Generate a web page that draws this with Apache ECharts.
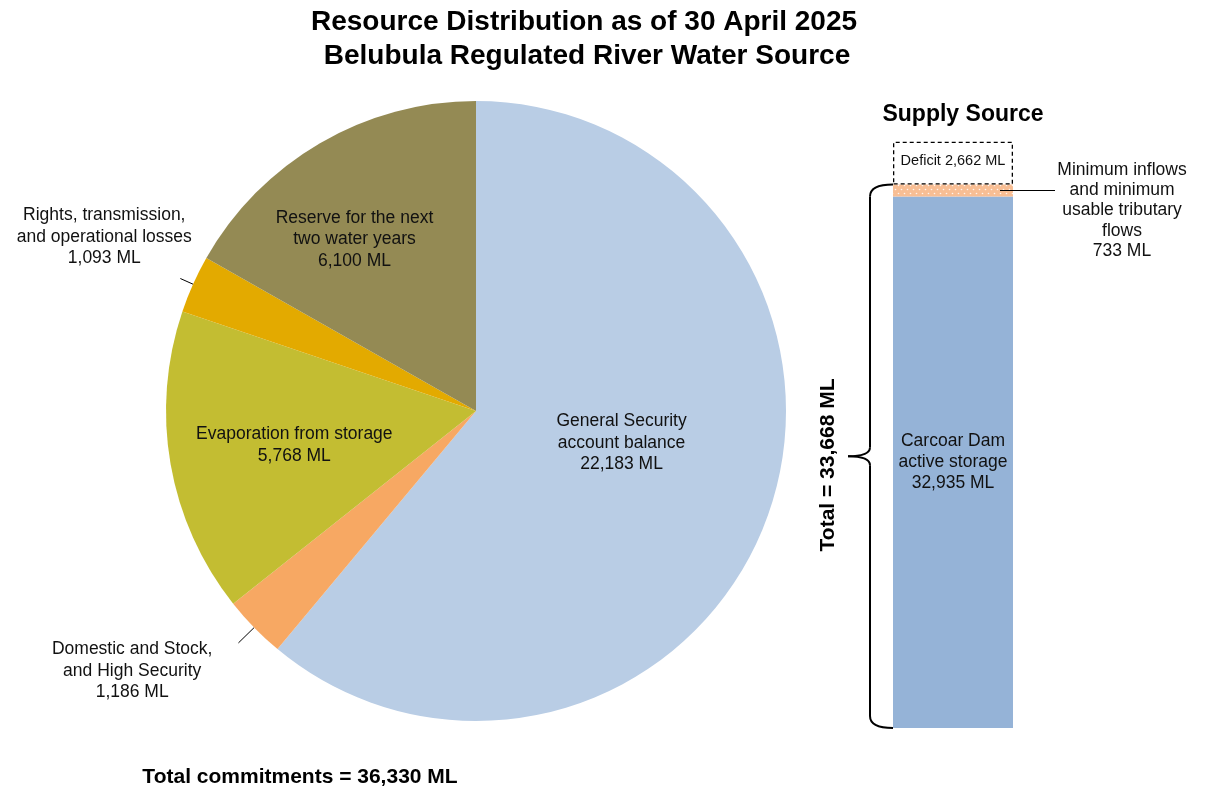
<!DOCTYPE html>
<html><head><meta charset="utf-8">
<script src="https://cdn.jsdelivr.net/npm/echarts@6/dist/echarts.min.js"></script>
<style>html,body{margin:0;padding:0;background:#fff}#c{width:1205px;height:792px}</style>
</head><body><div id="c"></div>
<script>
// ---------------- data ----------------
const titleLines = ['Resource Distribution as of 30 April 2025', 'Belubula Regulated River Water Source'];
const pieNames = ['General Security\naccount balance', 'Domestic and Stock,\nand High Security', 'Evaporation from storage', 'Rights, transmission,\nand operational losses', 'Reserve for the next\ntwo water years'];
const pieValues = [22183, 1186, 5768, 1093, 6100];
const supplyCategory = ['Supply Source'];
const supplyNames = ['Carcoar Dam\nactive storage', 'Minimum inflows\nand minimum\nusable tributary\nflows', 'Deficit'];
const supplyValues = [32935, 733, 2662];
const totalCommitmentsText = 'Total commitments = 36,330 ML';
const totalSupplyText = 'Total = 33,668 ML';

// ---------------- style ----------------
const FONT = '"Liberation Sans", Arial, sans-serif';
const pieColors = ['#B9CDE5', '#F7A863', '#C3BD32', '#E3AA00', '#948A54'];
const pieOutside = [false, true, false, true, false];
const pieLineLen = [0, 22, 0, 14, 0];
const pieLabelShift = [[-3, -22], [-21, 28], [-26, 7], [16.5, -41.5], [-42, -35]];
const BAR_LEFT = 893, BAR_W = 120, GRID_BOTTOM = 64, GRID_H = 645.6, Y_MAX = 40000;

const fmt = v => v.toLocaleString('en-US');

const chart = echarts.init(document.getElementById('c'), null, {renderer: 'canvas'});

const pieData = pieNames.map((n, i) => {
  const item = {name: n, value: pieValues[i], itemStyle: {color: pieColors[i]}};
  if (pieOutside[i]) {
    item.label = {position: 'outside'};
    item.labelLine = {show: true, length: pieLineLen[i], length2: 0, lineStyle: {color: '#000', width: 1}};
  }
  return item;
});

const supplyColors = ['#95B3D7', '#F8BE94', 'rgba(255,255,255,0)'];

const option = {
  backgroundColor: '#fff',
  animation: false,
  grid: {left: BAR_LEFT, width: BAR_W, bottom: GRID_BOTTOM, height: GRID_H, containLabel: false},
  xAxis: {type: 'category', data: supplyCategory, show: false},
  yAxis: {type: 'value', min: 0, max: Y_MAX, show: false},
  series: [
    {
      type: 'pie',
      center: [476, 411],
      radius: 310,
      startAngle: 90,
      clockwise: true,
      avoidLabelOverlap: false,
      silent: true,
      data: pieData,
      itemStyle: {borderWidth: 0},
      label: {
        show: true, position: 'inside', color: '#111', fontFamily: FONT, fontSize: 17.5, lineHeight: 21.5,
        formatter: p => p.name + '\n' + fmt(p.value) + ' ML'
      },
      labelLine: {show: false},
      labelLayout: function (p) {
        const s = pieLabelShift[p.dataIndex];
        const r = p.labelRect;
        return {
          x: r.x + r.width / 2 + s[0], y: r.y + r.height / 2 + s[1],
          align: 'center', verticalAlign: 'middle',
          labelLinePoints: p.labelLinePoints
        };
      }
    },
    {
      type: 'bar', stack: 'supply', barWidth: '100%', silent: true,
      data: [supplyValues[0]],
      itemStyle: {color: supplyColors[0]},
      label: {show: true, position: 'inside', color: '#111', fontFamily: FONT, fontSize: 17.5, lineHeight: 21,
        formatter: () => supplyNames[0] + '\n' + fmt(supplyValues[0]) + ' ML'}
    },
    {
      type: 'bar', stack: 'supply', barWidth: '100%', silent: true,
      data: [supplyValues[1]],
      itemStyle: {color: supplyColors[1],
        decal: {symbol: 'circle', symbolSize: 0.55, dashArrayX: [[3, 3], [0, 3, 3, 0]], dashArrayY: [3, 1], color: 'rgba(255,255,255,0.85)'}},
      label: {show: true, position: [229, 26], align: 'center', verticalAlign: 'middle', color: '#111', fontFamily: FONT, fontSize: 17.5, lineHeight: 20.3,
        formatter: () => supplyNames[1] + '\n' + fmt(supplyValues[1]) + ' ML'}
    },
    {
      type: 'bar', stack: 'supply', barWidth: '100%', silent: true,
      data: [supplyValues[2]],
      itemStyle: {color: supplyColors[2], borderColor: '#000', borderWidth: 1.3, borderType: [4, 3]},
      label: {show: true, position: 'inside', offset: [0, -2], color: '#111', fontFamily: FONT, fontSize: 14.5,
        formatter: () => supplyNames[2] + ' ' + fmt(supplyValues[2]) + ' ML'}
    }
  ]
};
chart.setOption(option);

// decorations computed from the bar chart's scale
const px = v => chart.convertToPixel({gridIndex: 0}, [supplyCategory[0], v]);
const yB = px(0)[1];
const yT = px(supplyValues[0] + supplyValues[1])[1];
const yM = (yB + yT) / 2;
const yMin = px(supplyValues[0] + supplyValues[1] / 2)[1];
const xr = BAR_LEFT, xv = BAR_LEFT - 23, xt = BAR_LEFT - 45;
const STROKE = {fill: null, stroke: '#000', lineWidth: 2};
const curve = (x1, y1, x2, y2, cx, cy) => ({type: 'bezierCurve', silent: true, z: 100, shape: {x1, y1, x2, y2, cpx1: cx, cpy1: cy}, style: STROKE});
const seg = (x1, y1, x2, y2, w) => ({type: 'line', silent: true, z: 100, shape: {x1, y1, x2, y2}, style: {stroke: '#000', lineWidth: w || 2}});

const txt = (text, x, y, size, extra) => Object.assign({
  type: 'text', x: x, y: y, silent: true, z: 100,
  style: {text: text, fill: '#000', fontFamily: FONT, fontWeight: 'bold', fontSize: size, align: 'center', verticalAlign: 'middle'}
}, extra || {});

chart.setOption({
  graphic: [
    txt(titleLines[0], 584, 22, 28),
    txt(titleLines[1], 587, 56, 28),
    txt(supplyCategory[0], 963, 115, 23),
    txt(totalCommitmentsText, 300, 777, 21),
    txt(totalSupplyText, 828, 465, 21, {rotation: Math.PI / 2}),
    curve(xr, yT, xv, yT + 12, xv, yT),
    seg(xv, yT + 12, xv, yM - 9),
    curve(xv, yM - 9, xt, yM, xv, yM),
    curve(xt, yM, xv, yM + 9, xv, yM),
    seg(xv, yM + 9, xv, yB - 12),
    curve(xv, yB - 12, xr, yB, xv, yB),
    seg(BAR_LEFT + BAR_W - 13, yMin, BAR_LEFT + BAR_W + 42, yMin, 1)
  ]
});
</script></body></html>
